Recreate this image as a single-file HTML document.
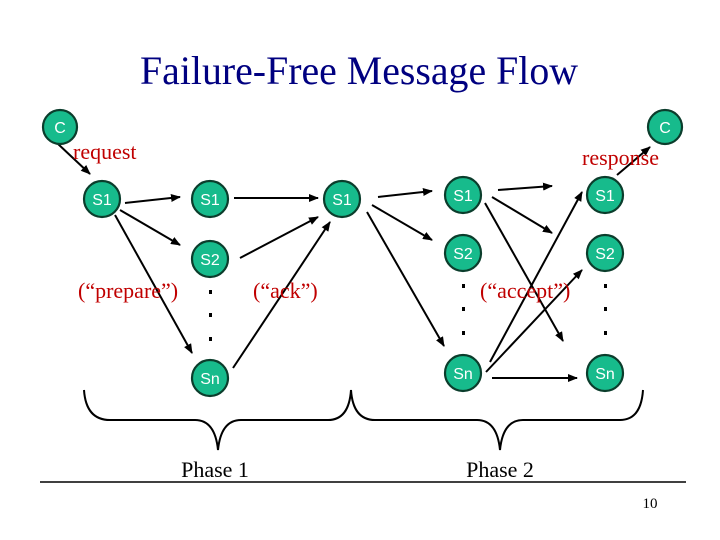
<!DOCTYPE html>
<html><head><meta charset="utf-8"><style>
html,body{margin:0;padding:0;background:#fff;}
svg{display:block;}
.n{fill:#17bb8c;stroke:#0b3d2c;stroke-width:2.2;}
.t{font-family:"Liberation Sans",sans-serif;font-size:16px;fill:#fff;text-anchor:middle;}
.a{stroke:#000;stroke-width:2;fill:none;marker-end:url(#ar);}
.r{font-family:"Liberation Serif",serif;font-size:22px;fill:#c00000;}
.d{fill:#000;}
</style></head><body>
<svg width="720" height="540" viewBox="0 0 720 540" xmlns="http://www.w3.org/2000/svg">
<defs><marker id="ar" markerWidth="10" markerHeight="8" refX="9" refY="4" orient="auto" markerUnits="userSpaceOnUse"><path d="M0,0 L10,4 L0,8 z" fill="#000"/></marker></defs>
<text x="359" y="84" text-anchor="middle" font-family="Liberation Serif,serif" font-size="40" fill="#000080" textLength="438" lengthAdjust="spacingAndGlyphs">Failure-Free Message Flow</text>
<line class="a" x1="57" y1="143" x2="90" y2="174"/>
<line class="a" x1="125" y1="203" x2="180" y2="197"/>
<line class="a" x1="120" y1="210" x2="180" y2="245"/>
<line class="a" x1="115" y1="215" x2="192" y2="353"/>
<line class="a" x1="234" y1="198" x2="318" y2="198"/>
<line class="a" x1="240" y1="258" x2="318" y2="217"/>
<line class="a" x1="233" y1="368" x2="330" y2="222"/>
<line class="a" x1="378" y1="197" x2="432" y2="191"/>
<line class="a" x1="372" y1="205" x2="432" y2="240"/>
<line class="a" x1="367" y1="212" x2="444" y2="346"/>
<line class="a" x1="498" y1="190" x2="552" y2="186"/>
<line class="a" x1="492" y1="197" x2="552" y2="233"/>
<line class="a" x1="485" y1="203" x2="563" y2="341"/>
<line class="a" x1="490" y1="362" x2="582" y2="192"/>
<line class="a" x1="486" y1="372" x2="582" y2="270"/>
<line class="a" x1="492" y1="378" x2="577" y2="378"/>
<line class="a" x1="617" y1="175" x2="650" y2="147"/>
<g>
<circle class="n" cx="60" cy="127" r="17"/><text class="t" x="60" y="133">C</text>
<circle class="n" cx="665" cy="127" r="17"/><text class="t" x="665" y="133">C</text>
<circle class="n" cx="102" cy="199" r="18"/><text class="t" x="102" y="205">S1</text>
<circle class="n" cx="210" cy="199" r="18"/><text class="t" x="210" y="205">S1</text>
<circle class="n" cx="210" cy="259" r="18"/><text class="t" x="210" y="265">S2</text>
<circle class="n" cx="210" cy="378" r="18"/><text class="t" x="210" y="384">Sn</text>
<circle class="n" cx="342" cy="199" r="18"/><text class="t" x="342" y="205">S1</text>
<circle class="n" cx="463" cy="195" r="18"/><text class="t" x="463" y="201">S1</text>
<circle class="n" cx="463" cy="253" r="18"/><text class="t" x="463" y="259">S2</text>
<circle class="n" cx="463" cy="373" r="18"/><text class="t" x="463" y="379">Sn</text>
<circle class="n" cx="605" cy="195" r="18"/><text class="t" x="605" y="201">S1</text>
<circle class="n" cx="605" cy="253" r="18"/><text class="t" x="605" y="259">S2</text>
<circle class="n" cx="605" cy="373" r="18"/><text class="t" x="605" y="379">Sn</text>
</g>
<rect class="d" x="209" y="290" width="3" height="4"/><rect class="d" x="209" y="313" width="3" height="4"/><rect class="d" x="209" y="337" width="3" height="4"/>
<rect class="d" x="462" y="284" width="3" height="4"/><rect class="d" x="462" y="307" width="3" height="4"/><rect class="d" x="462" y="331" width="3" height="4"/>
<rect class="d" x="604" y="284" width="3" height="4"/><rect class="d" x="604" y="307" width="3" height="4"/><rect class="d" x="604" y="331" width="3" height="4"/>
<text class="r" x="73" y="159">request</text>
<text class="r" x="582" y="165">response</text>
<text class="r" x="78" y="298">(“prepare”)</text>
<text class="r" x="253" y="298">(“ack”)</text>
<text class="r" x="480" y="298">(“accept”)</text>
<path d="M84,390 Q86,420 110,420 L195,420 Q215,420 218,450 Q221,420 241,420 L328,420 Q349,420 351,390" stroke="#000" stroke-width="2" fill="none"/>
<path d="M351,390 Q353,420 375,420 L477,420 Q497,420 500,450 Q503,420 523,420 L620,420 Q641,420 643,390" stroke="#000" stroke-width="2" fill="none"/>
<text x="215" y="477" text-anchor="middle" font-family="Liberation Serif,serif" font-size="22" fill="#000">Phase 1</text>
<text x="500" y="477" text-anchor="middle" font-family="Liberation Serif,serif" font-size="22" fill="#000">Phase 2</text>
<line x1="40" y1="482" x2="686" y2="482" stroke="#000" stroke-width="1.5"/>
<text x="650" y="508" text-anchor="middle" font-family="Liberation Serif,serif" font-size="15" fill="#000">10</text>
</svg>
</body></html>
